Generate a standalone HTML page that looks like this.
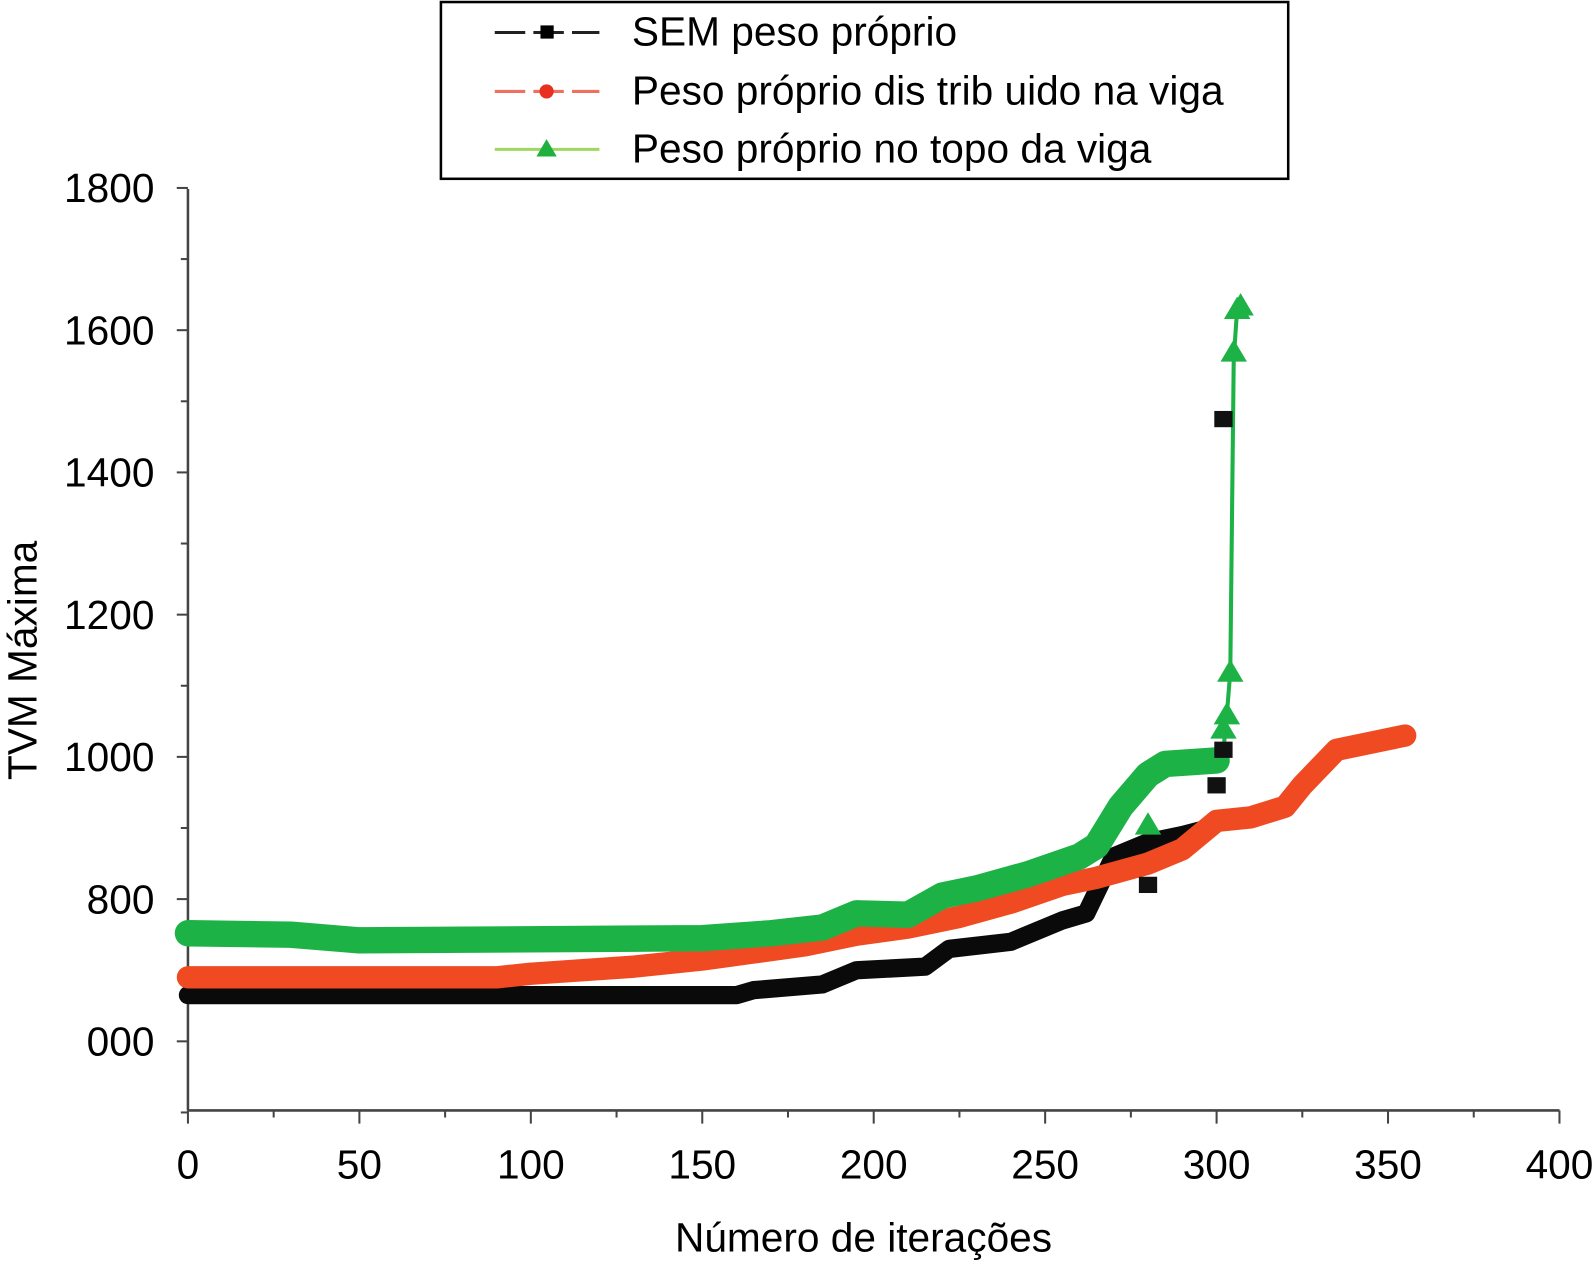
<!DOCTYPE html>
<html><head><meta charset="utf-8"><style>
body{margin:0;background:#fff}
svg{display:block;font-family:"Liberation Sans",sans-serif}
</style></head><body>
<svg id="chart" width="1593" height="1261" viewBox="0 0 1593 1261">
<g transform="scale(1.01594)">
<g id="axes"></g>
<g id="series"></g>
<g>
<rect x="434" y="2" width="834" height="174" fill="#fff" stroke="#000" stroke-width="2.5"/>
<g>
<line x1="487" y1="32" x2="590" y2="32" stroke="#222" stroke-width="3" stroke-dasharray="30 8"/>
<rect x="532" y="25" width="13" height="13" fill="#000"/>
<text x="622" y="45" font-size="40">SEM peso próprio</text></g>
<g>
<line x1="487" y1="90" x2="590" y2="90" stroke="#f07060" stroke-width="3" stroke-dasharray="30 8"/>
<circle cx="538" cy="90" r="7" fill="#e83020"/>
<text x="622" y="103" font-size="40">Peso próprio dis trib uido na viga</text></g>
<g>
<line x1="487" y1="147" x2="590" y2="147" stroke="#9ed860" stroke-width="3"/>
<polygon points="538,137 548,154 528,154" fill="#1fb040"/>
<text x="622" y="160" font-size="40">Peso próprio no topo da viga</text></g>
</g>
<text x="850" y="1232" font-size="40" text-anchor="middle">Número de iterações</text>
<text transform="translate(36,650) rotate(-90)" font-size="40" text-anchor="middle">TVM Máxima</text>
</g>
</svg>
<script>
const xTicks = [0,50,100,150,200,250,300,350,400];
const yTicks = [600,800,1000,1200,1400,1600,1800];
const yTickLabels = ["000","800","1000","1200","1400","1600","1800"];
const semX = [0,160,165,185,195,215,222,240,255,262,270,280,290,298];
const semY = [665,665,672,680,700,705,730,740,770,780,860,880,890,900];
const semMarkX = [280,300,302,302];
const semMarkY = [820,960,1010,1475];
const redX = [0,90,100,130,150,165,180,195,210,225,240,255,265,280,290,300,310,320,325,335,345,355];
const redY = [690,690,695,705,715,725,735,750,760,775,795,820,830,850,870,910,915,930,960,1010,1020,1030];
const greenX = [0,30,50,150,170,185,195,210,220,230,245,260,265,272,280,285,300,302,303,304,305,306,308];
const greenY = [752,750,742,745,752,760,780,778,805,815,835,860,875,930,975,990,995,1010,1060,1120,1560,1630,1635];
const greenMarkX = [280,302,303,304,305,306,307];
const greenMarkY = [905,1040,1060,1120,1570,1630,1635];

const NS="http://www.w3.org/2000/svg";
const X=v=>185+v*3.375;
const Y=v=>1025-(v-600)*0.7;
function mk(tag,attrs,parent){const e=document.createElementNS(NS,tag);for(const k in attrs)e.setAttribute(k,attrs[k]);parent.appendChild(e);return e;}
const axes=document.getElementById('axes');
const ser=document.getElementById('series');
let el=mk('line',{x1:185,y1:186,x2:185,y2:1093,stroke:'#444','stroke-width':2.5},axes);


el=mk('line',{x1:185,y1:1093,x2:1535,y2:1093,stroke:'#444','stroke-width':2.5},axes);


for(let v=0;v<=400;v+=25){mk('line',{x1:X(v),y1:1093,x2:X(v),y2:v%50?1100:1106,stroke:'#444','stroke-width':2},axes);}
for(let v=500;v<=1800;v+=100){mk('line',{x1:185,y1:Y(v),x2:v%200?178:174,y2:Y(v),stroke:'#444','stroke-width':2},axes);}
xTicks.forEach(v=>{const t=mk('text',{x:X(v),y:1160,'font-size':40,'text-anchor':'middle'},axes);t.textContent=v;

});
yTicks.forEach((v,i)=>{const t=mk('text',{x:152,y:Y(v)+14,'font-size':40,'text-anchor':'end'},axes);t.textContent=yTickLabels[i];

});
function pts(xs,ys){return xs.map((x,i)=>X(x)+','+Y(ys[i])).join(' ');}
el=mk('polyline',{points:pts(semX,semY),fill:'none',stroke:'#0a0a0a','stroke-width':18,'stroke-linejoin':'round','stroke-linecap':'round'},ser);


el=mk('polyline',{points:pts(redX,redY),fill:'none',stroke:'#f04a22','stroke-width':22,'stroke-linejoin':'round','stroke-linecap':'round'},ser);


el=mk('polyline',{points:pts(greenX,greenY),fill:'none',stroke:'#1db245','stroke-width':4},ser);


el=mk('polyline',{points:pts(greenX.slice(0,17),greenY.slice(0,17)),fill:'none',stroke:'#1db245','stroke-width':26,'stroke-linejoin':'round','stroke-linecap':'round'},ser);


semMarkX.forEach((x,i)=>{const m=mk('rect',{x:X(x)-9,y:Y(semMarkY[i])-8,width:18,height:16,fill:'#111'},ser);

});
greenMarkX.forEach((x,i)=>{const cx=X(x),cy=Y(greenMarkY[i]);const m=mk('polygon',{points:`${cx},${cy-12} ${cx+13},${cy+10} ${cx-13},${cy+10}`,fill:'#1db245'},ser);

});
</script>
</body></html>
